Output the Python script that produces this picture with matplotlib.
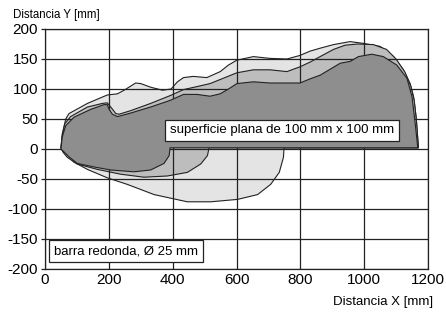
import matplotlib
matplotlib.use("Agg")
import matplotlib.pyplot as plt

plt.rcParams['font.family'] = ['Liberation Sans', 'DejaVu Sans']
plt.rcParams['axes.unicode_minus'] = False

# Light region (outer)
light_upper_x = [50, 54, 65, 75, 133, 195, 227, 248, 284, 300, 331, 368, 395, 415, 434, 465, 507, 549, 575, 601, 653, 705, 758, 799, 830, 862, 904, 956, 998, 1050, 1092, 1123, 1144, 1155, 1163, 1170]
light_upper_y = [2, 25, 50, 59, 76, 90, 92, 98, 110, 109, 103, 98, 100, 112, 119, 121, 119, 129, 140, 148, 154, 151, 150, 156, 163, 168, 174, 179, 176, 171, 154, 132, 109, 87, 53, 2]
light_lower_x = [749, 747, 734, 707, 666, 603, 519, 446, 342, 258, 195, 133, 91, 65]
light_lower_y = [2, -14, -39, -59, -76, -84, -88, -88, -76, -59, -48, -34, -22, -8]

# Medium region
med_upper_x = [50, 54, 62, 80, 133, 180, 195, 206, 222, 232, 269, 331, 392, 434, 476, 517, 559, 601, 653, 705, 758, 799, 831, 862, 904, 940, 980, 1029, 1070, 1100, 1128, 1146, 1157, 1164, 1170]
med_upper_y = [2, 22, 42, 54, 70, 76, 77, 70, 59, 58, 64, 76, 89, 99, 104, 109, 118, 127, 132, 132, 129, 137, 145, 154, 166, 173, 175, 174, 166, 150, 128, 105, 80, 45, 2]
med_lower_x = [514, 509, 488, 446, 383, 310, 237, 164, 101, 70, 56]
med_lower_y = [2, -11, -25, -39, -45, -47, -42, -34, -25, -14, -5]

# Dark region
dark_upper_x = [50, 54, 65, 91, 143, 185, 195, 201, 211, 227, 269, 331, 392, 434, 476, 517, 549, 575, 601, 653, 705, 799, 831, 862, 925, 956, 982, 1024, 1060, 1102, 1134, 1150, 1160, 1168]
dark_upper_y = [0, 20, 39, 53, 66, 74, 74, 66, 58, 54, 60, 70, 81, 91, 91, 88, 92, 100, 109, 112, 110, 110, 117, 123, 143, 146, 154, 158, 154, 140, 118, 87, 42, 2]
dark_lower_x = [392, 389, 373, 331, 279, 206, 154, 101, 75, 58]
dark_lower_y = [2, -11, -24, -35, -38, -35, -30, -24, -13, -4]

x_ticks = [0, 200, 400, 600, 800, 1000, 1200]
y_ticks = [-200, -150, -100, -50, 0, 50, 100, 150, 200]

fig = plt.figure(figsize=(4.46, 3.16), dpi=100)
ax = fig.add_axes([45/446, 47/316, 383/446, 240/316])

regions = [
    (light_upper_x, light_upper_y, light_lower_x, light_lower_y, '#e4e4e4'),
    (med_upper_x, med_upper_y, med_lower_x, med_lower_y, '#bdbdbd'),
    (dark_upper_x, dark_upper_y, dark_lower_x, dark_lower_y, '#8e8e8e'),
]
for i, (ux, uy, lx, ly, col) in enumerate(regions):
    xs = ux + lx
    ys = uy + ly
    ax.fill(xs, ys, facecolor=col, edgecolor='#222222', linewidth=0.8,
            joinstyle='round', zorder=1 + i)

ax.set_xlim(0, 1200)
ax.set_ylim(-200, 200)
ax.set_xticks(x_ticks)
ax.set_yticks(y_ticks)
ax.grid(True, color='#222222', linewidth=0.9, zorder=5)
ax.set_axisbelow(False)
for s in ax.spines.values():
    s.set_color('#222222')
    s.set_linewidth(0.9)
    s.set_zorder(6)
ax.tick_params(axis='y', direction='out', length=3, width=0.9, pad=2, labelsize=11, color='#222222')
ax.tick_params(axis='x', direction='out', length=0, pad=3, labelsize=11)

ax.text(392, 31, 'superficie plana de 100 mm x 100 mm', fontsize=9.5, va='center', ha='left', zorder=10,
        bbox=dict(boxstyle='square,pad=0.35', facecolor='white', edgecolor='#222222', linewidth=0.9))
ax.text(28, -170, 'barra redonda, Ø 25 mm', fontsize=9.5, va='center', ha='left', zorder=10,
        bbox=dict(boxstyle='square,pad=0.35', facecolor='white', edgecolor='#222222', linewidth=0.9))

fig.text(13/446, 1 - 15/316, 'Distancia Y [mm]', fontsize=8.3, ha='left', va='center')
fig.text(433/446, 1 - 301.5/316, 'Distancia X [mm]', fontsize=9.5, ha='right', va='center')

fig.savefig('out.png', dpi=100)
